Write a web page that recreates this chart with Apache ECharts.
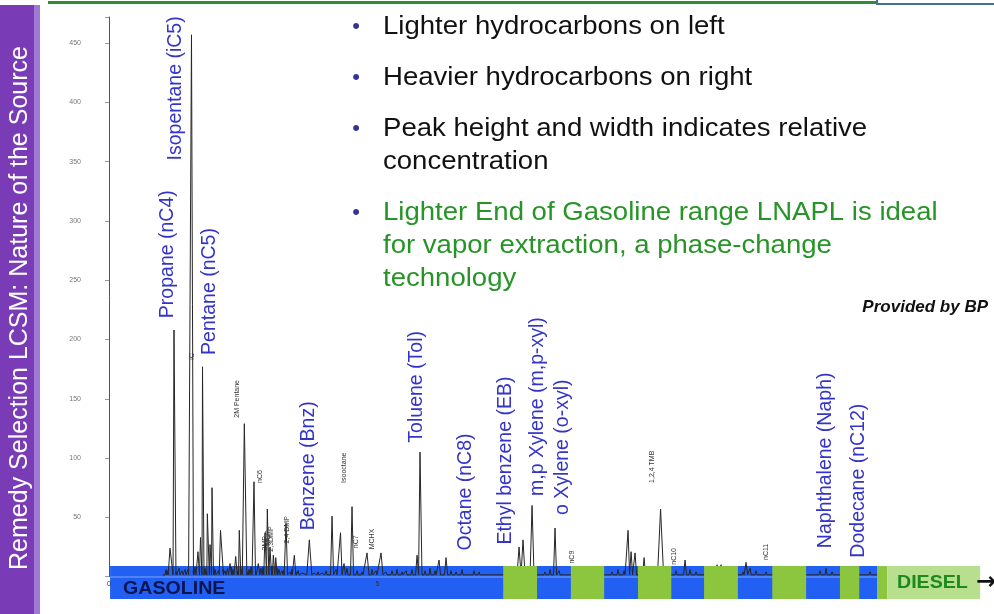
<!DOCTYPE html>
<html><head><meta charset="utf-8">
<script src="https://cdn.jsdelivr.net/npm/echarts@6/dist/echarts.min.js"></script>
<style>html,body{margin:0;padding:0;background:#fff}#c{width:994px;height:614px}</style>
</head><body><div id="c"></div>
<script>
// ---------------- DATA ----------------
// Chromatogram peaks: retention time (min), height, half-width (min)
const peakTimes = [1.061,1.136,1.210,1.304,1.359,1.415,1.536,1.601,1.657,1.704,1.741,1.788,1.831,1.881,1.918,1.974,2.076,2.160,2.207,2.253,2.309,2.359,2.426,2.520,2.607,2.644,2.700,2.780,2.831,2.905,2.948,2.998,3.060,3.104,3.166,3.222,3.296,3.371,3.451,3.520,3.594,3.730,3.818,3.892,3.966,4.041,4.153,4.227,4.311,4.376,4.432,4.525,4.618,4.711,4.804,4.898,4.972,5.065,5.158,5.270,5.363,5.456,5.531,5.642,5.736,5.791,5.885,5.978,6.071,6.145,6.276,6.369,6.462,6.574,6.797,6.890,6.983,7.095,7.207,7.635,7.709,7.877,8.119,8.212,8.305,8.380,8.492,9.367,9.479,9.590,9.665,9.721,9.795,9.963,10.270,10.559,10.726,10.819,10.931,11.322,11.397,11.806,11.862,11.937,12.048,12.235,13.091,13.240,13.352,13.464,14.060,14.171];
const peakHeights = [6,24,208,7,5,6,457,8,21,33,177,7,53,27,75,6,39,5,7,11,6,17,39,129,6,8,80,11,7,37,57,25,18,16,6,5,45,4,18,5,3,31,3,4,3,5,51,6,37,11,7,59,5,4,20,6,5,20,4,5,6,4,5,6,18,105,5,7,5,14,16,5,4,6,5,4,3,3,2,25,31,60,4,6,41,5,3,4,6,5,39,21,20,16,57,5,14,6,4,10,10,4,12,7,5,4,3,5,7,4,3,4];
const peakWidths = [.019,.056,.037,.019,.019,.019,.037,.019,.028,.028,.028,.019,.037,.028,.028,.019,.056,.019,.019,.028,.019,.028,.028,.047,.019,.019,.028,.028,.019,.028,.028,.028,.028,.028,.019,.019,.028,.019,.028,.019,.019,.047,.019,.019,.019,.019,.028,.019,.028,.028,.019,.028,.019,.019,.037,.019,.019,.037,.019,.019,.019,.019,.019,.019,.028,.037,.019,.019,.019,.028,.028,.019,.019,.019,.019,.019,.019,.019,.019,.037,.037,.037,.019,.019,.028,.019,.019,.019,.019,.019,.028,.028,.028,.028,.056,.019,.028,.019,.019,.028,.028,.019,.028,.019,.019,.019,.019,.019,.019,.019,.019,.019];
// Extra small spikes in the light end (heights inside the band)
const spikeTimes = [1.09,1.25,1.47,1.57,1.81,1.95,2.04,2.12,2.28,2.40,2.47,2.58,2.73,2.87,3.03,3.13,3.25,3.40,3.48];
const spikeHeights = [5,4,6,5,4,8,5,6,8,5,6,4,5,8,9,7,5,6,4];
const traceStart = 1.0, traceEnd = 14.3, baselineLevel = 1.5;

// Compound labels (blue): name, retention time, label base level
const compoundNames = ['Propane (nC4)','Isopentane (iC5)','Pentane (nC5)','Benzene (Bnz)','Toluene (Tol)','Octane (nC8)','Ethyl benzene (EB)','m,p Xylene (m,p-xyl)','o Xylene (o-xyl)','Naphthalene (Naph)','Dodecane (nC12)'];
const compoundTimes = [1.099,1.248,1.881,3.724,5.736,6.648,7.393,7.989,8.454,13.352,13.966];
const compoundLevels = [218,351,187,39,113,22,27,68,52,24,16];

// Small peak annotations from the original trace
const minorNames = ['iC','2M Pentane','nC6','3MP','MCP','2,3DMP','2,4 DMP','Isooctane','nC7','MCHX','nC9','1,2,4 TMB','nC10','nC11'];
const minorTimes = [1.546,2.384,2.812,2.905,2.960,3.020,3.315,4.376,4.600,4.898,8.622,10.110,10.520,12.230];
const minorLevels = [183,134,79,22,26,21,28,79,24,23,11,79,10,14];

// Axis tick labels
const yTickLabels = [50,100,150,200,250,300,350,400,450];
const xTickLabels = [0,5];

// Range bar: gasoline band, carbon-number blocks, diesel
const gasolineRange = [0.02, 14.3];
const carbonBlocks = [[7.34,7.97],[8.60,9.22],[9.85,10.47],[11.08,11.71],[12.35,12.98],[13.61,13.97]];
const dieselRange = [14.3, 14.49, 16.22];

// Text
const bulletTexts = [
  ['Lighter hydrocarbons on left'],
  ['Heavier hydrocarbons on right'],
  ['Peak height and width indicates relative','concentration'],
  ['Lighter End of Gasoline range LNAPL is ideal','for vapor extraction, a phase-change','technology']
];
const sideTitle = 'Remedy Selection LCSM: Nature of the Source';
const creditText = 'Provided by BP';

// ---------------- CHART ----------------
const FF = '"Liberation Sans", Arial, sans-serif';
const allPeaks = peakTimes.map((t, i) => [t, peakHeights[i], peakWidths[i]])
  .concat(spikeTimes.map((t, i) => [t, spikeHeights[i], 0.012]))
  .sort((a, b) => a[0] - b[0]);
const trace = [[traceStart, baselineLevel]];
allPeaks.forEach(p => {
  trace.push([p[0] - p[2], baselineLevel], [p[0], p[1]], [p[0] + p[2], baselineLevel]);
});
trace.push([traceEnd, baselineLevel]);

const BAND_TOP = 8.9, BAND_BOT = -18.9;
const COLORS = ['#2160f2', '#8cc63f', '#b7df8e'];

function bandItem(params, api) {
  const a = api.coord([api.value(0), BAND_TOP]);
  const b = api.coord([api.value(1), BAND_BOT]);
  const z0 = api.coord([api.value(0), 0]);
  const kind = api.value(2);
  const rect = {type: 'rect', shape: {x: a[0], y: a[1], width: b[0] - a[0], height: b[1] - a[1]}, style: {fill: COLORS[kind]}};
  if (kind !== 0) return rect;
  return {type: 'group', children: [rect,
    {type: 'rect', shape: {x: a[0], y: z0[1], width: b[0] - a[0], height: 1}, style: {fill: '#7fa6ff'}}]};
}

const blockData = carbonBlocks.map(b => [b[0], b[1], 1])
  .concat([[dieselRange[0], dieselRange[1], 1], [dieselRange[1], dieselRange[2], 2]]);

const graphic = [
  {type: 'rect', shape: {x: 0, y: 5, width: 34, height: 609}, style: {fill: '#7a3cb6'}},
  {type: 'rect', shape: {x: 34, y: 5, width: 6, height: 609}, style: {fill: '#a07ad2'}},
  {type: 'text', x: 20, y: 308, rotation: Math.PI / 2,
   style: {text: sideTitle, fontSize: 25, fontFamily: FF, fill: '#ffffff', textAlign: 'center', textVerticalAlign: 'middle'}},
  {type: 'line', shape: {x1: 48, y1: 2.5, x2: 877, y2: 2.5}, style: {stroke: '#2f8f2f', lineWidth: 3}},
  {type: 'line', shape: {x1: 877, y1: 4, x2: 994, y2: 4}, style: {stroke: '#46708e', lineWidth: 2}},
  {type: 'line', shape: {x1: 877, y1: 0, x2: 877, y2: 5}, style: {stroke: '#46708e', lineWidth: 2}},
  {type: 'text', x: 988, y: 307, style: {text: creditText, fontSize: 17, fontWeight: 'bold', fontStyle: 'italic', fontFamily: FF, fill: '#111', textAlign: 'right', textVerticalAlign: 'middle'}},
  {type: 'text', x: 123, y: 589, scaleX: 1.06, style: {text: 'GASOLINE', fontSize: 18.5, fontWeight: 'bold', fontFamily: FF, fill: '#0b1650', textVerticalAlign: 'middle'}},
  {type: 'text', x: 897, y: 583, scaleX: 1.06, style: {text: 'DIESEL', fontSize: 18.5, fontWeight: 'bold', fontFamily: FF, fill: '#1e8a1e', textVerticalAlign: 'middle'}},
  {type: 'text', x: 986, y: 583, style: {text: '→', fontSize: 24, fontWeight: 'bold', fontFamily: '"DejaVu Sans", sans-serif', fill: '#111', textAlign: 'center', textVerticalAlign: 'middle'}}
];
let ly = 27;
bulletTexts.forEach((lines, bi) => {
  const green = bi === 3;
  graphic.push({type: 'text', x: 356, y: ly, style: {text: '•', fontSize: 22, fontFamily: FF, fill: '#33339a', textAlign: 'center', textVerticalAlign: 'middle'}});
  lines.forEach((ln, li) => {
    graphic.push({type: 'text', x: 383, y: ly + li * 33, scaleX: 1.06,
      style: {text: ln, fontSize: 26, fontFamily: FF, fill: green ? '#279427' : '#111', textVerticalAlign: 'middle'}});
  });
  ly += (lines.length - 1) * 33 + 51;
});
graphic.forEach(g => { g.z = 100; });

const chart = echarts.init(document.getElementById('c'));
chart.setOption({
  animation: false,
  backgroundColor: '#fff',
  grid: {left: 109, right: 117, top: 17, bottom: 37.4},
  xAxis: {type: 'value', min: 0, max: 14.3, interval: 5, z: 10,
    axisLine: {show: false}, axisTick: {show: false}, splitLine: {show: false},
    axisLabel: {fontSize: 7, color: '#333', margin: 4, fontFamily: FF,
      formatter: v => xTickLabels.includes(v) ? String(v) : ''}},
  yAxis: {type: 'value', min: 0, max: 472, interval: 50,
    axisLine: {show: true, lineStyle: {color: '#555', width: 1}},
    axisTick: {show: true, length: 4, lineStyle: {color: '#999'}},
    splitLine: {show: false},
    axisLabel: {fontSize: 7, color: '#777', margin: 28, fontFamily: FF,
      formatter: v => yTickLabels.includes(v) ? String(v) : ''}},
  series: [
    {type: 'custom', z: 1, renderItem: bandItem, encode: {x: [0, 1]}, data: [[gasolineRange[0], gasolineRange[1], 0]], silent: true},
    {type: 'line', z: 2, data: trace, showSymbol: false, symbol: 'none', lineStyle: {color: '#262626', width: 1}, silent: true},
    {type: 'custom', z: 3, renderItem: bandItem, encode: {x: [0, 1]}, data: blockData, silent: true},
    {type: 'scatter', z: 4, symbolSize: 1, itemStyle: {color: 'rgba(0,0,0,0)', opacity: 1}, silent: true,
      data: compoundNames.map((n, i) => ({name: n, value: [compoundTimes[i], compoundLevels[i]]})),
      label: {show: true, position: 'inside', rotate: 90, align: 'left', verticalAlign: 'middle',
        formatter: p => p.name, fontSize: 19.5, fontFamily: FF, color: '#3434c8', opacity: 1}},
    {type: 'scatter', z: 4, symbolSize: 1, itemStyle: {color: 'rgba(0,0,0,0)', opacity: 1}, silent: true,
      data: minorNames.map((n, i) => ({name: n, value: [minorTimes[i], minorLevels[i]]})),
      label: {show: true, position: 'inside', rotate: 90, align: 'left', verticalAlign: 'middle',
        formatter: p => p.name, fontSize: 7, fontFamily: FF, color: '#333', opacity: 1}}
  ],
  graphic: graphic
});
</script></body></html>
